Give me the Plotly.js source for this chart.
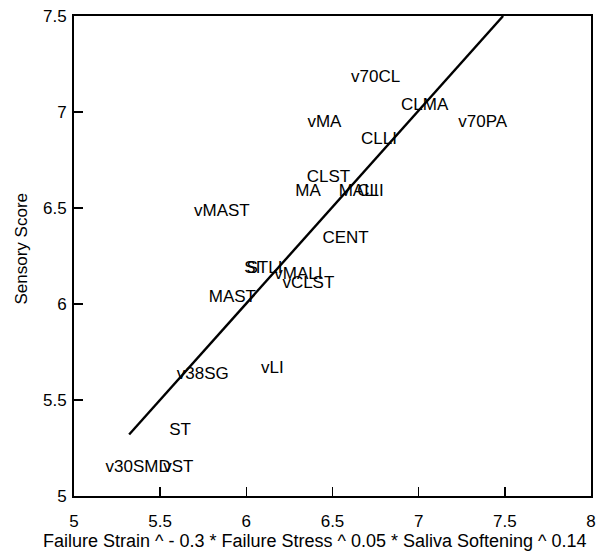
<!DOCTYPE html>
<html>
<head>
<meta charset="utf-8">
<script src="https://cdn.plot.ly/plotly-3.0.1.min.js"></script>
<style>html,body{margin:0;padding:0;background:#fff;}#chart{width:598px;height:554px;}</style>
</head>
<body>
<div id="chart"></div>
<script>
const labels = ["v70CL","CLMA","v70PA","vMA","CLLI","CLST","MA","MALI","CLI","CENT","vMAST","SI","STLI","vMALI","vCLST","MAST","v38SG","vLI","ST","v30SMD","vST"];
const xValues = [6.750,7.035,7.372,6.453,6.770,6.477,6.358,6.651,6.720,6.576,5.858,6.035,6.105,6.302,6.360,5.919,5.747,6.151,5.616,5.372,5.605];
const yValues = [7.176,7.030,6.946,6.943,6.858,6.655,6.587,6.587,6.587,6.342,6.478,6.186,6.186,6.150,6.108,6.035,5.634,5.665,5.339,5.149,5.149];
const fitX = [5.32, 7.49];
const fitY = [5.32, 7.50];
const xTicks = [5,5.5,6,6.5,7,7.5,8];
const yTicks = [5,5.5,6,6.5,7,7.5];
const xTitle = 'Failure Strain ^ - 0.3 * Failure Stress ^ 0.05 * Saliva Softening ^ 0.14';
const yTitle = 'Sensory Score';

const font = "Arial, 'Liberation Sans', sans-serif";
const traces = [
  {x: fitX, y: fitY, mode: 'lines', line: {color: '#000', width: 2.4}, hoverinfo: 'skip'},
  {x: xValues, y: yValues, text: labels, mode: 'text', textposition: 'middle center',
   textfont: {family: font, size: 17, color: '#000'}}
];
const axisCommon = {
  showgrid: false, zeroline: false, showline: true, linecolor: '#000', linewidth: 2,
  mirror: true, ticks: 'inside', ticklen: 9, tickwidth: 1.5, tickcolor: '#000',
  tickfont: {family: font, size: 17, color: '#000'}
};
const layout = {
  width: 598, height: 554,
  margin: {l: 74, r: 7, t: 16, b: 58},
  showlegend: false,
  paper_bgcolor: '#fff', plot_bgcolor: '#fff',
  xaxis: Object.assign({}, axisCommon, {range: [5, 8], tickvals: xTicks, ticktext: xTicks.map(String), ticklabelstandoff: 9}),
  yaxis: Object.assign({}, axisCommon, {range: [5, 7.5], tickvals: yTicks, ticktext: yTicks.map(String), ticklabelstandoff: 2}),
  annotations: [
    {text: xTitle, xref: 'paper', yref: 'paper', x: (315 - 74) / 517, y: -(541 - 496) / 480, xanchor: 'center', yanchor: 'middle',
     showarrow: false, font: {family: font, size: 18, color: '#000'}},
    {text: yTitle, xref: 'paper', yref: 'paper', x: (21 - 74) / 517, y: (496 - 248.5) / 480, xanchor: 'center', yanchor: 'middle',
     showarrow: false, textangle: -90, font: {family: font, size: 17, color: '#000'}}
  ]
};
Plotly.newPlot('chart', traces, layout, {displayModeBar: false, staticPlot: true});
</script>
</body>
</html>
